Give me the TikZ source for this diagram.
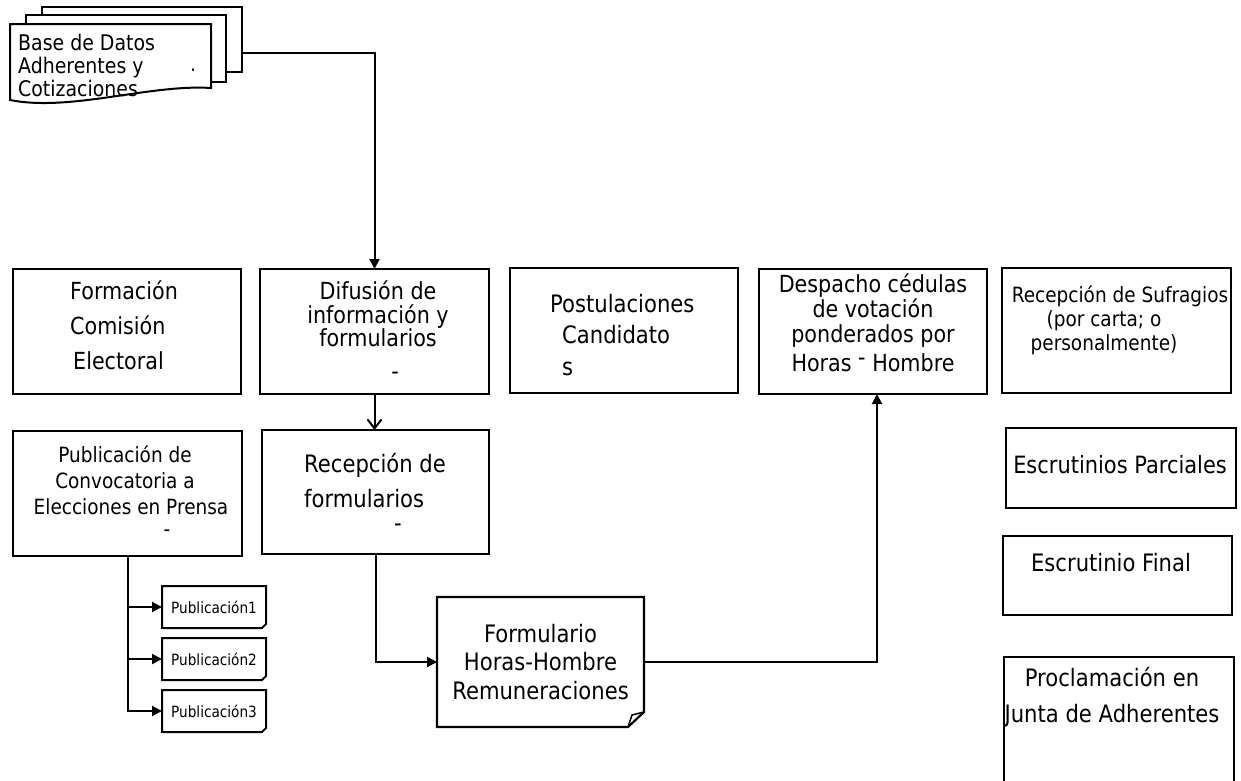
\documentclass[tikz,border=0pt]{standalone}
\usepackage{fontspec}
\setmainfont{DejaVu Sans}[FakeStretch=0.88]
\usetikzlibrary{arrows.meta}
\newcommand{\tam}[2]{\fontsize{#1}{#2}\selectfont}

\begin{document}
\begin{tikzpicture}[%
        x = 1pt, y = -1pt,
        caja/.style = {draw, line width=2.2pt, inner sep=0pt, outer sep=0pt},
        hoja/.style = {draw, fill=white, line width=2pt, inner sep=0pt, outer sep=0pt},
        pub/.style = {minimum width=104pt, minimum height=42pt, inner sep=0pt, outer sep=0pt, font=\tam{15.5}{18}},
        flecha/.style = {line width=2pt, -{Triangle[length=10pt,width=10pt]}},
        abierta/.style = {line width=2pt, -{Straight Barb[length=9pt,width=14pt]}},
        texto/.style = {inner sep=0pt}
    ]
      \useasboundingbox (0,0) rectangle (1241,780);
      % base de datos
      \node[hoja, minimum width=200pt, minimum height=65pt] (hoja3) at (142,39.5) {};
      \node[hoja, minimum width=200pt, minimum height=67pt] (hoja2) at (126,48.5) {};
      \draw[line width=2pt, fill=white] (10,24) -- (211,24) -- (211,88) .. controls (150,84) and (70,112) .. (10,100) -- cycle;
      \node[texto, anchor=west, align=left, font=\tam{21.5}{23}] (base) at (18,65) {Base de Datos\\Adherentes y\\Cotizaciones};
      \node[texto, font=\tam{21}{23}] (punto) at (193,70) {.};
      % fila superior
      \node[caja, minimum width=228pt, minimum height=125pt] (formacion) at (127,331.5) {};
      \node[texto, anchor=west, align=left, font=\tam{23.5}{35}] (tformacion) at (70,325) {Formación\\Comisión\\\hspace*{3pt}Electoral};
      \node[caja, minimum width=229pt, minimum height=125pt] (difusion) at (374.5,331.5) {};
      \node[texto, align=center, font=\tam{23.5}{23.5}] (tdifusion) at (378,314) {Difusión de\\información y\\formularios};
      \node[texto, font=\tam{23.5}{23.5}] (gdifusion) at (395,376) {-};
      \node[caja, minimum width=228pt, minimum height=125pt] (postulaciones) at (624,330.5) {};
      \node[texto, anchor=west, align=left, font=\tam{24}{31.5}] (tpostulaciones) at (550,335) {Postulaciones\\\hspace*{12pt}Candidato\\\hspace*{12pt}s};
      \node[caja, minimum width=228pt, minimum height=125pt] (despacho) at (873,331.5) {};
      \node[texto, align=center, font=\tam{23.5}{21}] (tdespacho) at (873,323) {Despacho cédulas\\de votación\\[4pt]ponderados por\\[6pt]Horas \raisebox{6pt}{-} Hombre};
      \node[caja, minimum width=229pt, minimum height=125pt] (sufragios) at (1116.5,330.5) {};
      \node[texto, align=center, font=\tam{21}{24}] (tsufragios) at (1104,320) {\hspace*{32pt}Recepción de Sufragios\\(por carta; o\\personalmente)};
      % fila inferior
      \node[caja, minimum width=229pt, minimum height=125pt] (publicacion) at (127.5,493.5) {};
      \node[texto, align=center, font=\tam{21}{26}] (tpublicacion) at (125,480) {Publicación de\\Convocatoria a\\\hspace*{12pt}Elecciones en Prensa};
      \node[texto, font=\tam{21}{21}] (gpublicacion) at (167,533) {-};
      \node[caja, minimum width=227pt, minimum height=124pt] (recepcion) at (375.5,492) {};
      \node[texto, anchor=west, align=left, font=\tam{24}{35}] (trecepcion) at (304,481) {Recepción de\\formularios};
      \node[texto, font=\tam{24}{24}] (grecepcion) at (398,528) {-};
      \node[minimum width=207pt, minimum height=130pt, inner sep=0pt, outer sep=0pt, align=center, font=\tam{24}{28.5}] (formulario) at (540.5,662) {Formulario\\Horas-Hombre\\Remuneraciones};
      \draw[line width=2.2pt] (formulario.north west) -- (formulario.north east) -- ([yshift=15pt]formulario.south east) -- ([xshift=-16pt]formulario.south east) -- (formulario.south west) -- cycle;
      \draw[line width=1.5pt] ([xshift=-16pt]formulario.south east) -- ([xshift=-12pt,yshift=12pt]formulario.south east) -- ([yshift=15pt]formulario.south east);
      % columna derecha
      \node[caja, minimum width=230pt, minimum height=80pt] (parciales) at (1121,468) {};
      \node[texto, font=\tam{23.8}{24}] (tparciales) at (1120,465) {Escrutinios Parciales};
      \node[caja, minimum width=229pt, minimum height=79pt] (final) at (1117.5,575.5) {};
      \node[texto, font=\tam{24}{24}] (tfinal) at (1111,563) {Escrutinio Final};
      \node[caja, minimum width=230pt, minimum height=140pt] (proclamacion) at (1119,727) {};
      \node[texto, align=center, font=\tam{24}{36}] (tproclamacion) at (1112,697) {Proclamación en\\Junta de Adherentes};
      % publicaciones
      \foreach \i/\y in {1/607,2/659,3/711} {
        \node[pub] (pub\i) at (214,\y) {Publicación\i};
        \draw[line width=2pt] (pub\i.north west) -- (pub\i.north east) -- ([yshift=4pt]pub\i.south east) -- ([xshift=-4pt]pub\i.south east) -- (pub\i.south west) -- cycle;
        \draw[flecha] (publicacion.south) |- (pub\i.west);
      }
      % conectores
      \draw[flecha] ([yshift=-13.5pt]hoja3.east) -| (difusion.north);
      \draw[abierta] (difusion.south) -- (difusion.south |- recepcion.north);
      \draw[flecha] (recepcion.south) |- (formulario.west);
      \draw[flecha] (formulario.east) -| ([xshift=4pt]despacho.south);
    \end{tikzpicture}
\end{document}
